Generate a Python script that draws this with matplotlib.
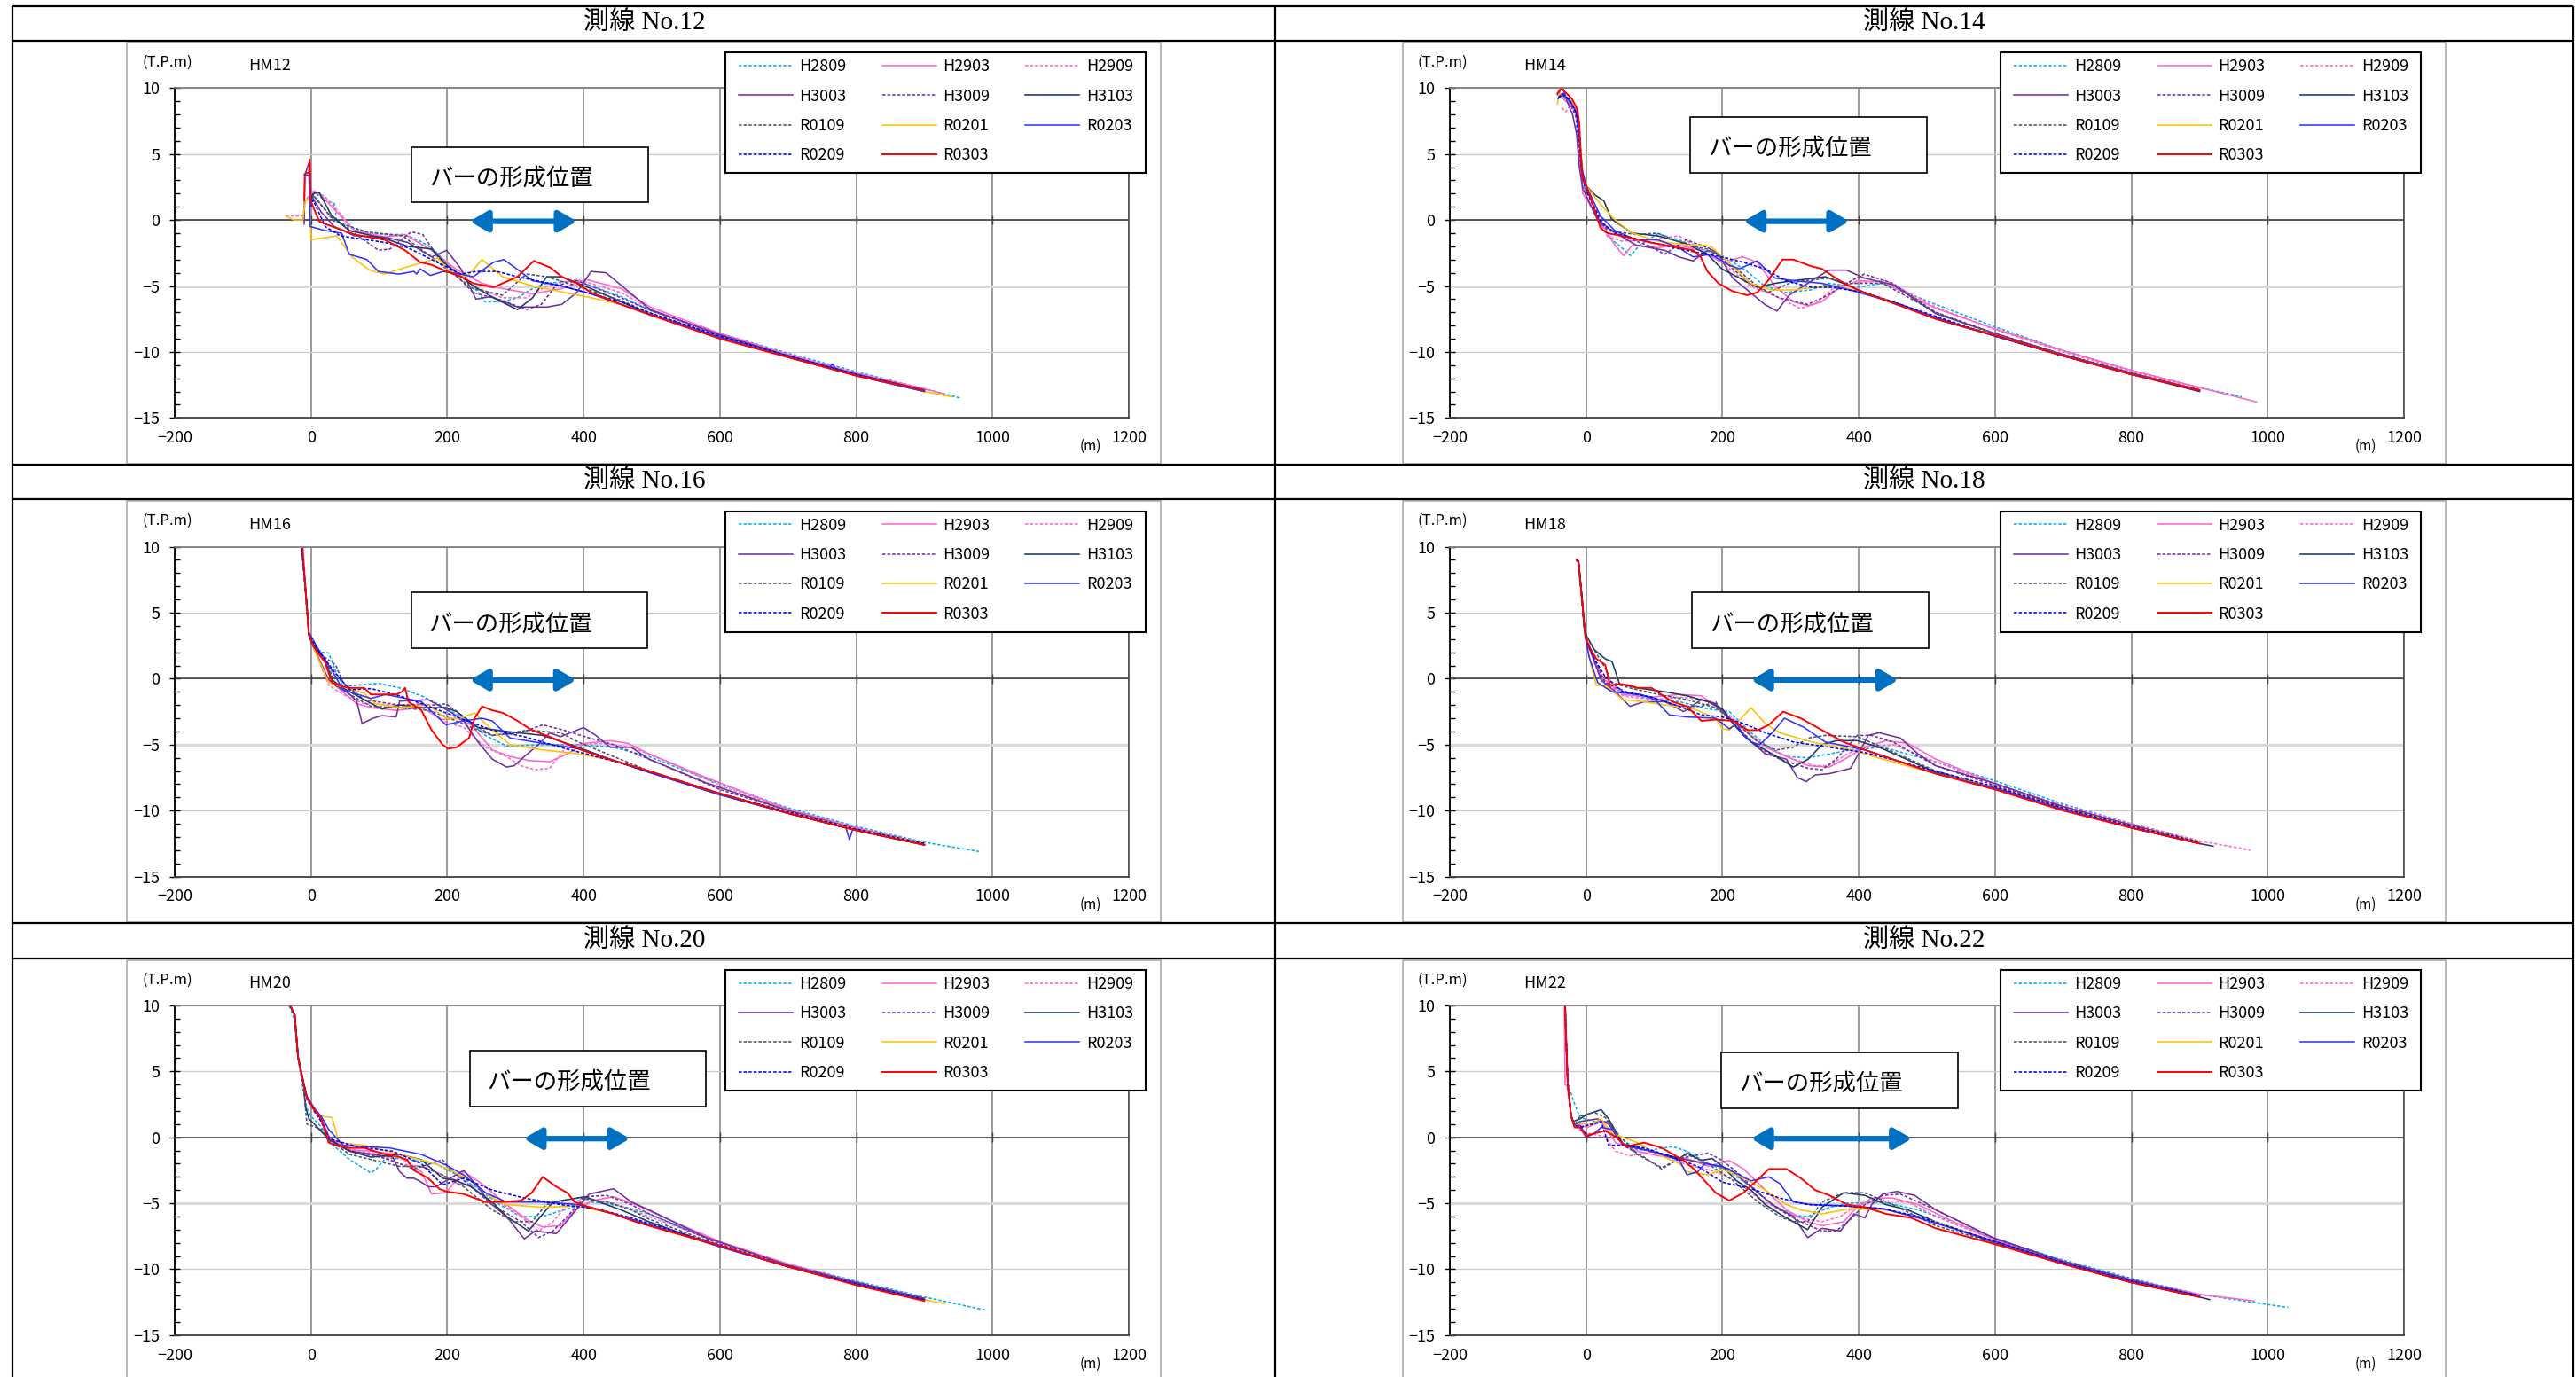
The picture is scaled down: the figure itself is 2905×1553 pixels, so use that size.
import numpy as np
import matplotlib
matplotlib.use("Agg")
import matplotlib.pyplot as plt
from matplotlib.patches import Rectangle

plt.rcParams['font.family'] = ['Noto Sans CJK JP', 'DejaVu Sans']

W, H = 2905, 1553

# survey names (legend order) and their line styles
surveys = ["H2809", "H2903", "H2909", "H3003", "H3009", "H3103",
           "R0109", "R0201", "R0203", "R0209", "R0303"]
colors = {"H2809": "#00B0F0", "H2903": "#FF66CC", "H2909": "#FF66CC",
          "H3003": "#7030A0", "H3009": "#7030A0", "H3103": "#1F3864",
          "R0109": "#44546A", "R0201": "#FFC000", "R0203": "#3333FF",
          "R0209": "#0000FF", "R0303": "#FF0000"}
dotted = {"H2809", "H2909", "H3009", "R0109", "R0209"}

titles = ["測線 No.12", "測線 No.14", "測線 No.16", "測線 No.18", "測線 No.20", "測線 No.22"]
lines_id = ["HM12", "HM14", "HM16", "HM18", "HM20", "HM22"]

# profiles: distance (m), elevation (T.P.m)
hm12 = {
 "H2809": [(0,1.2),(5,2.1),(20,1.5),(34,1.25),(38,-0.1),(60,-0.6),(86,-1.0),(116,-1.1),(138,-1.1),(160,-1.6),(177,-2.1),(212,-3.9),(238,-5.0),(255,-6.2),(281,-6.2),(303,-5.9),(325,-5.2),(346,-4.8),(390,-4.6),(455,-5.8),(500,-6.9),(600,-8.6),(700,-10.1),(800,-11.5),(900,-12.8),(953,-13.5)],
 "H2903": [(0,1.5),(5,2.2),(20,1.6),(34,0.8),(64,-0.8),(108,-1.3),(138,-1.1),(177,-2.3),(212,-3.7),(251,-4.8),(281,-5.2),(325,-5.6),(368,-5.2),(403,-4.5),(455,-5.2),(498,-6.6),(600,-8.6),(700,-10.2),(800,-11.6),(900,-12.8),(930,-13.2)],
 "H2909": [(-37,0.3),(-20,0.3),(-12,0.3),(-8,1.4),(0,2.2),(20,1.8),(34,1.0),(64,-0.8),(100,-1.1),(142,-1.2),(177,-2.3),(238,-5.0),(281,-5.9),(316,-5.9),(346,-5.0),(390,-4.5),(455,-5.5),(500,-6.8),(600,-8.7),(700,-10.2),(800,-11.6),(900,-12.8)],
 "H3003": [(-10,-0.3),(-9,3.4),(-2,4.5),(0,1.9),(15,0.6),(34,-0.5),(64,-1.2),(108,-1.3),(142,-1.7),(177,-2.8),(199,-2.3),(220,-3.7),(242,-6.0),(264,-5.8),(303,-6.6),(346,-6.6),(368,-6.4),(390,-5.5),(411,-3.9),(433,-4.0),(498,-6.8),(600,-8.7),(700,-10.3),(800,-11.7),(900,-12.9)],
 "H3009": [(-1,1.0),(3,1.9),(30,0.2),(64,-1.0),(99,-2.3),(116,-2.2),(147,-0.9),(164,-1.1),(186,-2.8),(238,-5.5),(281,-6.1),(316,-6.8),(338,-6.4),(359,-5.0),(390,-4.6),(455,-5.9),(500,-6.9),(600,-8.7),(700,-10.3),(800,-11.7),(900,-12.9)],
 "H3103": [(0,1.5),(3,2.0),(12,2.1),(30,0.35),(56,-0.8),(108,-1.4),(142,-2.0),(177,-2.2),(199,-3.4),(238,-5.0),(268,-5.9),(303,-6.8),(325,-5.9),(346,-4.3),(368,-4.3),(411,-5.2),(455,-6.2),(500,-7.2),(600,-8.9),(700,-10.4),(800,-11.8),(900,-13.0)],
 "R0109": [(0,1.3),(3,1.9),(34,-0.1),(82,-0.9),(134,-1.2),(177,-2.8),(203,-3.9),(238,-5.2),(281,-5.7),(316,-4.1),(346,-4.3),(390,-5.0),(455,-6.1),(500,-7.1),(600,-8.8),(700,-10.3),(800,-11.7),(900,-12.9)],
 "R0201": [(-37,0.3),(-25,0.0),(-12,0.0),(-8,1.5),(-2,1.6),(0,-1.5),(38,-1.2),(60,-2.8),(86,-3.8),(108,-4.1),(138,-3.6),(186,-2.9),(203,-3.9),(229,-4.3),(251,-3.0),(281,-4.3),(325,-5.0),(411,-5.9),(455,-6.4),(500,-7.2),(600,-8.9),(700,-10.4),(800,-11.8),(900,-13.0),(940,-13.4)],
 "R0203": [(-10,3.4),(-3,3.4),(-1,-0.5),(21,-0.8),(45,-1.0),(56,-2.6),(82,-3.0),(99,-3.9),(129,-4.1),(151,-3.9),(155,-4.1),(160,-3.7),(175,-4.2),(194,-3.9),(220,-4.1),(238,-4.3),(268,-3.2),(283,-3.0),(307,-3.9),(325,-4.6),(368,-5.0),(411,-5.6),(455,-6.4),(500,-7.2),(600,-8.9),(700,-10.4),(760,-11.2),(765,-10.9),(770,-11.3),(800,-11.8),(900,-13.0)],
 "R0209": [(0,1.0),(3,1.5),(21,-0.5),(43,-1.2),(108,-1.7),(142,-2.1),(177,-3.0),(220,-4.1),(242,-3.9),(273,-3.9),(303,-4.3),(368,-5.0),(411,-5.6),(455,-6.2),(500,-7.1),(600,-8.8),(700,-10.3),(800,-11.7),(900,-12.9)],
 "R0303": [(-10,1.5),(-9,3.5),(-3,3.6),(-2,4.6),(-1,1.5),(12,-0.1),(21,-0.3),(64,-1.1),(108,-1.5),(138,-2.3),(160,-3.2),(177,-3.4),(199,-3.9),(220,-4.3),(238,-4.8),(268,-5.1),(303,-4.3),(327,-3.1),(351,-3.6),(368,-4.3),(390,-4.8),(411,-5.5),(455,-6.4),(498,-7.2),(600,-9.0),(700,-10.4),(800,-11.8),(900,-12.9)],
}

hm14 = {
 "H2809": [(-40,9.3),(-30,9.2),(-20,8.8),(-12,8.2),(-9,5.5),(-5,3.0),(0,1.8),(5,1.2),(31,-1.2),(52,-2.1),(65,-2.7),(79,-1.9),(105,-1.05),(136,-1.5),(168,-2.2),(204,-2.8),(236,-3.9),(262,-5.0),(293,-5.5),(330,-5.3),(356,-4.8),(398,-5.1),(435,-4.8),(513,-6.4),(600,-8.1),(700,-9.9),(800,-11.4),(900,-12.7),(962,-13.4)],
 "H2903": [(-38,9.4),(-30,9.0),(-20,8.6),(-12,7.5),(-8,4.0),(-5,2.0),(5,1.2),(20,0.0),(42,-1.9),(55,-2.7),(68,-1.9),(105,-2.1),(136,-1.9),(168,-2.3),(199,-3.2),(230,-2.8),(251,-3.2),(277,-5.0),(304,-6.2),(325,-6.5),(346,-6.2),(367,-5.3),(398,-4.6),(435,-4.7),(513,-6.7),(597,-8.2),(700,-9.9),(800,-11.4),(900,-12.7),(984,-13.8)],
 "H2909": [(-36,8.5),(-30,8.2),(-22,8.8),(-12,7.8),(-8,4.5),(-5,2.5),(5,1.2),(31,-1.2),(52,-1.6),(94,-1.5),(136,-1.2),(168,-2.2),(199,-3.2),(241,-5.0),(283,-5.9),(314,-6.7),(335,-6.4),(367,-5.0),(408,-4.7),(440,-4.6),(513,-6.6),(600,-8.3),(700,-10.0),(800,-11.5),(900,-12.8)],
 "H3003": [(-40,9.6),(-35,10.2),(-28,9.0),(-20,8.0),(-14,6.5),(-10,4.0),(-5,2.4),(16,0.1),(37,-0.8),(73,-1.9),(115,-2.3),(136,-2.8),(157,-3.1),(178,-2.3),(194,-2.6),(215,-4.4),(241,-5.5),(262,-6.4),(280,-6.9),(298,-5.7),(319,-5.0),(356,-3.8),(382,-3.8),(408,-4.4),(450,-4.9),(513,-7.1),(600,-8.6),(700,-10.2),(800,-11.6),(900,-12.9)],
 "H3009": [(-40,9.5),(-33,9.6),(-25,9.0),(-15,7.8),(-10,5.0),(-5,3.0),(0,2.3),(21,-0.3),(52,-1.2),(94,-2.0),(115,-2.6),(147,-1.5),(183,-2.2),(199,-2.8),(230,-4.1),(251,-5.0),(283,-5.9),(325,-6.4),(351,-5.8),(382,-4.8),(408,-4.1),(450,-4.8),(513,-7.0),(600,-8.6),(700,-10.2),(800,-11.6),(900,-12.9)],
 "H3103": [(-42,9.5),(-35,9.4),(-25,9.2),(-15,8.3),(-10,6.5),(-7,4.0),(0,2.6),(13,1.9),(26,1.45),(37,0.1),(42,-0.1),(68,-1.0),(105,-1.2),(147,-1.8),(178,-2.6),(199,-3.7),(225,-4.4),(251,-5.1),(277,-4.8),(304,-4.6),(351,-4.3),(377,-4.8),(408,-5.5),(461,-6.4),(513,-7.5),(600,-8.8),(700,-10.3),(800,-11.7),(900,-13.0)],
 "R0109": [(-41,9.4),(-33,9.5),(-22,9.0),(-13,8.2),(-9,6.0),(-5,3.5),(0,2.2),(31,-0.8),(73,-1.1),(105,-1.0),(147,-1.9),(188,-2.3),(215,-3.7),(241,-4.8),(267,-5.5),(298,-4.8),(319,-4.6),(356,-4.4),(382,-4.8),(435,-4.8),(513,-7.0),(600,-8.7),(700,-10.2),(800,-11.6),(900,-12.9)],
 "R0201": [(-42,8.8),(-40,9.6),(-32,9.4),(-22,9.0),(-13,8.2),(-9,6.0),(-5,3.5),(0,2.6),(21,1.2),(37,0.3),(47,-0.2),(68,-1.0),(105,-1.6),(147,-1.9),(168,-1.9),(183,-2.0),(215,-3.5),(241,-4.8),(272,-5.3),(304,-5.3),(335,-5.1),(367,-5.0),(408,-5.5),(461,-6.4),(513,-7.4),(600,-8.8),(700,-10.3),(800,-11.7),(900,-12.9)],
 "R0203": [(-41,9.2),(-34,9.6),(-24,9.0),(-14,8.2),(-10,6.5),(-6,3.8),(0,2.6),(21,0.3),(42,-0.8),(73,-1.5),(105,-1.5),(136,-2.1),(157,-2.8),(183,-2.6),(209,-3.4),(225,-3.7),(251,-3.1),(277,-4.4),(304,-4.6),(346,-4.8),(387,-5.3),(461,-6.4),(513,-7.4),(600,-8.8),(700,-10.3),(800,-11.7),(900,-12.9)],
 "R0209": [(-41,9.3),(-34,9.5),(-24,9.1),(-14,8.0),(-10,6.0),(-6,3.5),(0,2.3),(21,-0.1),(42,-1.0),(94,-1.7),(147,-2.3),(199,-2.8),(230,-3.2),(262,-3.7),(293,-4.6),(330,-5.1),(361,-5.1),(408,-5.5),(461,-6.4),(513,-7.3),(600,-8.8),(700,-10.3),(800,-11.7),(900,-12.9)],
 "R0303": [(-42,9.6),(-37,10.0),(-21,9.2),(-13,8.4),(-10,7.3),(-8,5.0),(-5,3.2),(0,2.6),(10,1.2),(21,-0.6),(31,-1.0),(52,-1.2),(94,-1.7),(147,-2.2),(157,-2.3),(168,-2.8),(178,-3.9),(194,-4.8),(215,-5.4),(236,-5.7),(251,-5.5),(267,-4.6),(288,-3.0),(304,-3.0),(330,-3.5),(346,-3.7),(372,-4.6),(398,-5.3),(450,-6.3),(513,-7.5),(597,-8.7),(700,-10.3),(800,-11.7),(900,-12.9)],
}

hm16 = {
 "H2809": [(-15,11),(-7,6.0),(-3,3.3),(2,2.6),(15,2.0),(26,1.95),(36,0.6),(47,-0.6),(67,-0.5),(99,-0.35),(130,-0.7),(162,-1.3),(193,-2.1),(224,-3.0),(256,-4.3),(287,-5.1),(340,-5.0),(392,-5.0),(444,-5.2),(496,-5.9),(580,-7.6),(700,-9.8),(800,-11.2),(900,-12.4),(980,-13.1)],
 "H2903": [(-15,11),(-7,6.0),(-3,3.3),(5,2.3),(26,-0.1),(67,-1.9),(88,-2.2),(125,-2.4),(162,-2.2),(193,-3.1),(214,-3.0),(235,-3.5),(266,-5.4),(292,-5.9),(319,-6.2),(350,-6.3),(376,-5.7),(402,-4.9),(439,-4.7),(465,-4.9),(496,-5.7),(580,-7.5),(700,-9.9),(800,-11.3),(900,-12.5)],
 "H2909": [(-15,11),(-7,6.0),(-3,3.3),(5,2.2),(26,-0.5),(47,-1.2),(78,-1.9),(130,-2.0),(162,-1.9),(193,-3.2),(224,-3.7),(256,-5.2),(287,-5.9),(308,-6.6),(329,-6.9),(350,-6.8),(371,-5.4),(392,-5.0),(429,-4.9),(470,-5.2),(523,-6.3),(600,-8.1),(700,-9.9),(800,-11.3),(900,-12.5)],
 "H3003": [(-15,11),(-7,6.0),(-3,3.3),(5,2.2),(26,-0.1),(57,-1.2),(67,-1.7),(75,-3.4),(91,-3.0),(104,-2.8),(125,-2.9),(130,-1.7),(172,-1.6),(204,-2.5),(224,-3.2),(245,-4.8),(266,-6.1),(287,-6.7),(298,-6.6),(313,-5.9),(334,-5.0),(350,-4.1),(366,-4.4),(400,-3.7),(418,-4.3),(439,-5.2),(470,-5.2),(496,-6.1),(580,-7.9),(700,-10.0),(800,-11.4),(900,-12.5)],
 "H3009": [(-15,11),(-7,6.0),(-3,3.3),(10,2.0),(36,1.05),(47,-0.3),(78,-1.6),(130,-2.0),(183,-2.0),(198,-1.9),(214,-2.5),(235,-3.4),(266,-4.3),(308,-4.1),(340,-3.5),(371,-3.9),(402,-4.4),(444,-5.0),(496,-6.1),(600,-8.4),(700,-10.0),(800,-11.4),(900,-12.5)],
 "H3103": [(-15,11),(-7,6.0),(-3,3.3),(5,2.4),(20,1.5),(31,-0.1),(47,-0.7),(78,-1.6),(104,-2.3),(130,-2.0),(162,-2.2),(198,-2.2),(214,-2.5),(245,-3.7),(287,-4.0),(340,-4.3),(392,-5.2),(444,-6.2),(496,-7.1),(600,-8.8),(700,-10.2),(800,-11.5),(900,-12.6)],
 "R0109": [(-15,11),(-7,6.0),(-3,3.3),(10,2.0),(25,1.0),(36,-0.5),(57,-1.2),(88,-2.1),(130,-2.2),(172,-2.4),(204,-3.0),(235,-3.7),(266,-4.3),(319,-3.9),(366,-4.1),(392,-4.8),(444,-5.9),(496,-7.0),(600,-8.7),(700,-10.2),(800,-11.5),(900,-12.6)],
 "R0201": [(-15,11),(-7,6.0),(-3,3.3),(5,2.2),(26,-0.3),(52,-0.7),(78,-1.1),(94,-1.9),(130,-2.2),(172,-2.0),(198,-3.0),(219,-3.0),(240,-2.6),(266,-3.9),(292,-5.0),(340,-5.4),(392,-5.7),(444,-6.2),(496,-7.0),(600,-8.7),(700,-10.1),(800,-11.4),(900,-12.5)],
 "R0203": [(-15,11),(-7,6.2),(-3,3.5),(10,2.3),(31,0.6),(47,-0.85),(88,-1.5),(109,-1.2),(130,-1.4),(162,-1.75),(198,-3.5),(224,-3.2),(251,-3.0),(266,-3.2),(292,-4.5),(340,-4.9),(392,-5.3),(444,-6.2),(496,-7.1),(600,-8.8),(700,-10.2),(785,-11.3),(790,-12.2),(795,-11.4),(900,-12.6)],
 "R0209": [(-15,11),(-7,6.0),(-3,3.3),(10,2.2),(36,0.4),(57,-0.85),(88,-0.75),(130,-1.3),(183,-2.3),(224,-3.1),(266,-3.9),(313,-4.4),(366,-5.2),(418,-5.9),(470,-6.6),(600,-8.7),(700,-10.1),(800,-11.4),(900,-12.5)],
 "R0303": [(-13,10.5),(-7,6.0),(-3,3.3),(2,2.6),(10,1.95),(20,1.3),(31,-0.3),(47,-0.6),(57,-0.7),(78,-0.7),(88,-1.2),(125,-1.2),(133,-1.0),(138,-0.7),(143,-1.75),(162,-2.4),(177,-3.9),(193,-5.0),(201,-5.3),(214,-5.2),(224,-4.8),(232,-4.5),(240,-3.0),(251,-2.1),(266,-2.4),(282,-2.6),(303,-3.2),(324,-3.9),(350,-4.4),(392,-5.3),(413,-5.7),(444,-6.2),(496,-7.0),(580,-8.4),(700,-10.2),(800,-11.5),(900,-12.6)],
}

hm18 = {
 "H2809": [(-14,9.0),(-11,8.8),(-6,6.0),(-3,4.0),(0,2.8),(28,-0.5),(54,-1.0),(96,-1.6),(137,-1.75),(179,-2.3),(210,-2.5),(242,-4.1),(268,-5.2),(294,-5.9),(326,-6.0),(357,-5.7),(388,-5.4),(435,-5.2),(513,-6.3),(597,-7.7),(700,-9.5),(800,-11.0),(900,-12.3)],
 "H2903": [(-14,9.0),(-11,8.8),(-6,6.0),(-3,4.0),(0,2.9),(22,0.15),(54,-1.2),(96,-1.4),(137,-1.2),(169,-1.3),(200,-2.5),(237,-4.1),(263,-5.2),(294,-5.9),(326,-6.6),(357,-6.7),(383,-6.0),(409,-5.2),(440,-4.7),(472,-4.9),(513,-6.1),(597,-7.9),(700,-9.7),(800,-11.1),(900,-12.4)],
 "H2909": [(-14,9.0),(-11,8.8),(-6,6.0),(-3,4.0),(0,2.9),(22,-0.1),(54,-1.3),(96,-1.6),(137,-1.4),(179,-1.6),(210,-2.75),(242,-4.3),(273,-5.4),(304,-6.1),(336,-6.6),(357,-6.6),(383,-5.7),(409,-5.2),(450,-5.0),(513,-6.3),(600,-8.0),(700,-9.6),(800,-11.0),(900,-12.3),(975,-13.0)],
 "H3003": [(-14,9.0),(-11,8.8),(-6,6.0),(-3,4.0),(0,3.0),(22,-0.1),(43,-1.0),(64,-2.1),(85,-1.75),(116,-1.75),(143,-2.5),(169,-1.6),(190,-1.9),(205,-2.8),(231,-4.3),(263,-5.7),(294,-6.1),(310,-7.5),(323,-7.8),(336,-7.3),(357,-7.2),(388,-6.8),(414,-4.3),(430,-4.1),(461,-4.5),(487,-5.7),(513,-6.6),(597,-7.9),(700,-9.7),(800,-11.1),(900,-12.4)],
 "H3009": [(-14,9.0),(-11,8.8),(-6,6.0),(-3,4.0),(0,2.9),(28,-0.3),(59,-1.0),(96,-1.4),(137,-2.1),(169,-2.1),(190,-1.75),(200,-2.5),(226,-3.9),(252,-5.2),(284,-6.1),(326,-6.8),(346,-6.9),(367,-6.1),(398,-4.3),(419,-4.3),(450,-4.8),(513,-6.6),(600,-8.1),(700,-9.7),(800,-11.1),(900,-12.4)],
 "H3103": [(-14,9.0),(-11,8.9),(-6,6.1),(-3,4.3),(0,3.3),(12,2.2),(28,1.5),(38,1.3),(49,-0.4),(75,-0.7),(116,-1.0),(148,-1.3),(179,-1.75),(200,-2.3),(221,-3.7),(242,-4.8),(273,-5.7),(304,-6.7),(326,-6.1),(346,-5.0),(367,-4.7),(398,-4.7),(430,-5.2),(461,-5.9),(513,-7.1),(600,-8.3),(700,-9.9),(800,-11.3),(900,-12.5),(920,-12.7)],
 "R0109": [(-14,9.0),(-11,8.8),(-6,6.0),(-3,4.2),(0,3.2),(28,0.8),(38,-0.3),(64,-0.7),(106,-1.2),(148,-1.6),(190,-2.2),(221,-3.4),(252,-4.8),(279,-5.4),(304,-5.2),(326,-4.5),(351,-4.3),(398,-4.4),(435,-5.2),(513,-7.0),(600,-8.3),(700,-9.9),(800,-11.3),(900,-12.5)],
 "R0201": [(-14,9.0),(-11,8.8),(-6,6.0),(-3,4.0),(1,2.6),(7,1.05),(15,-0.5),(28,-0.5),(54,-1.6),(85,-1.75),(116,-2.0),(158,-2.3),(190,-3.0),(200,-3.8),(210,-3.9),(226,-3.1),(242,-2.2),(263,-3.4),(284,-4.1),(331,-4.8),(383,-5.3),(435,-6.1),(513,-7.2),(600,-8.2),(700,-9.8),(800,-11.2),(900,-12.4)],
 "R0203": [(-14,9.0),(-11,8.8),(-6,6.0),(-3,4.0),(1,2.6),(4,1.7),(17,-0.3),(38,-1.0),(80,-1.2),(101,-1.6),(122,-2.75),(148,-2.9),(190,-3.0),(210,-3.8),(221,-3.4),(231,-4.3),(242,-4.8),(255,-5.0),(273,-4.1),(291,-3.0),(320,-3.7),(351,-4.8),(409,-5.4),(461,-6.3),(513,-7.2),(600,-8.3),(700,-9.9),(800,-11.3),(900,-12.5)],
 "R0209": [(-14,9.0),(-11,8.8),(-6,6.0),(-3,4.0),(0,2.9),(12,1.5),(28,0.15),(54,-1.0),(96,-1.4),(137,-2.1),(169,-2.75),(200,-2.9),(231,-3.4),(263,-4.1),(304,-4.8),(357,-5.2),(409,-5.6),(461,-6.3),(600,-8.2),(700,-9.8),(800,-11.2),(900,-12.4)],
 "R0303": [(-14,9.0),(-11.5,8.9),(-6,6.0),(-3,4.2),(-1,3.1),(7,2.2),(15,1.5),(28,1.05),(35,-0.5),(49,-0.4),(64,-0.5),(75,-0.7),(96,-0.7),(116,-1.4),(127,-1.75),(148,-2.1),(169,-3.2),(190,-3.1),(216,-3.2),(237,-3.9),(252,-3.9),(268,-3.5),(289,-2.5),(315,-3.0),(346,-3.9),(378,-4.8),(409,-5.4),(461,-6.3),(513,-7.2),(600,-8.4),(700,-10.0),(800,-11.3),(900,-12.5)],
}

hm20 = {
 "H2809": [(-35,10.3),(-29,9.6),(-24,8.8),(-19,6.0),(-11,3.5),(-6,2.2),(0,1.6),(15,0.8),(26,-0.3),(57,-1.7),(88,-2.7),(96,-2.4),(109,-1.6),(130,-1.6),(183,-2.0),(214,-2.85),(245,-3.9),(277,-5.1),(308,-6.0),(340,-6.0),(371,-5.5),(413,-4.9),(455,-5.2),(496,-5.8),(600,-8.0),(700,-9.6),(800,-10.9),(900,-12.1),(990,-13.1)],
 "H2903": [(-35,10.3),(-29,9.8),(-24,9.3),(-19,6.1),(-11,4.0),(-6,3.0),(5,2.1),(15,1.3),(26,0.0),(57,-0.95),(88,-1.05),(125,-1.3),(162,-2.6),(177,-4.3),(198,-4.2),(224,-2.6),(250,-3.5),(287,-5.1),(319,-6.3),(340,-6.8),(366,-6.7),(387,-5.5),(413,-4.8),(444,-4.5),(476,-5.1),(523,-6.2),(600,-7.9),(700,-9.6),(800,-11.0),(900,-12.2)],
 "H2909": [(-35,10.3),(-29,9.8),(-24,9.3),(-19,6.1),(-11,4.0),(-6,2.8),(5,1.9),(15,1.2),(26,-0.2),(57,-0.9),(99,-1.3),(130,-2.0),(162,-2.2),(193,-2.85),(214,-3.5),(245,-3.75),(277,-4.9),(308,-6.0),(334,-7.1),(355,-6.4),(376,-5.1),(402,-4.6),(444,-5.0),(496,-6.0),(600,-8.0),(700,-9.6),(800,-11.0),(900,-12.2)],
 "H3003": [(-35,10.3),(-29,9.8),(-24,9.3),(-19,6.1),(-11,4.1),(-6,3.0),(5,2.1),(15,1.4),(26,0.1),(40,-0.6),(57,-1.05),(78,-1.2),(120,-1.5),(130,-2.6),(141,-3.1),(151,-3.1),(162,-3.4),(172,-3.75),(183,-3.75),(198,-3.3),(224,-2.5),(245,-3.75),(261,-4.9),(287,-6.0),(313,-7.7),(329,-7.1),(360,-7.3),(381,-6.0),(408,-4.3),(444,-3.9),(470,-4.9),(496,-5.5),(580,-7.6),(700,-9.7),(800,-11.0),(900,-12.2)],
 "H3009": [(-35,10.3),(-29,9.8),(-24,9.3),(-19,6.1),(-11,4.0),(-6,2.9),(5,2.0),(15,1.3),(26,-0.2),(57,-1.0),(109,-1.6),(151,-2.4),(193,-1.7),(204,-2.4),(235,-3.75),(266,-5.1),(308,-6.4),(334,-7.6),(355,-7.1),(376,-6.0),(402,-4.5),(434,-4.4),(470,-5.1),(496,-5.8),(600,-8.1),(700,-9.7),(800,-11.0),(900,-12.2)],
 "H3103": [(-35,10.3),(-29,9.8),(-24,9.2),(-19,6.0),(-11,4.0),(-8,2.3),(-3,1.4),(5,1.0),(26,-0.15),(57,-1.05),(88,-1.5),(130,-1.3),(162,-1.7),(193,-3.1),(209,-3.2),(235,-3.75),(266,-4.9),(287,-6.0),(319,-7.1),(355,-4.9),(402,-4.5),(423,-4.9),(455,-5.5),(496,-6.4),(600,-8.3),(700,-9.8),(800,-11.1),(900,-12.3)],
 "R0109": [(-35,10.3),(-29,9.8),(-24,9.2),(-19,6.0),(-11,3.8),(-6,1.0),(0,0.9),(15,0.6),(26,-0.2),(57,-1.3),(130,-2.2),(162,-2.2),(193,-2.85),(224,-3.75),(266,-5.5),(298,-6.4),(324,-6.4),(345,-5.1),(392,-4.6),(434,-4.9),(470,-5.5),(496,-6.2),(600,-8.2),(700,-9.8),(800,-11.1),(900,-12.3)],
 "R0201": [(-35,10.3),(-29,9.8),(-24,9.3),(-19,6.1),(-11,4.1),(-6,3.0),(5,2.0),(15,1.6),(31,1.5),(41,-0.4),(78,-0.6),(130,-1.3),(183,-2.0),(209,-2.6),(235,-3.3),(266,-4.6),(287,-5.1),(340,-5.3),(392,-5.2),(444,-5.8),(496,-6.7),(600,-8.3),(700,-9.8),(800,-11.1),(900,-12.3),(930,-12.6)],
 "R0203": [(-35,10.3),(-29,9.8),(-24,9.3),(-19,6.1),(-11,4.2),(-6,3.1),(5,2.2),(15,1.6),(26,0.6),(47,-0.6),(78,-0.7),(115,-0.8),(162,-1.3),(198,-2.1),(224,-2.85),(256,-4.2),(287,-4.9),(340,-4.9),(392,-5.1),(444,-5.8),(496,-6.6),(600,-8.3),(700,-9.8),(800,-11.1),(900,-12.3)],
 "R0209": [(-35,10.3),(-29,9.8),(-24,9.3),(-19,6.1),(-11,4.1),(-6,3.0),(5,2.0),(15,1.2),(26,-0.1),(67,-0.7),(120,-1.05),(162,-2.0),(193,-3.6),(224,-3.1),(266,-4.0),(313,-4.6),(366,-5.1),(418,-5.4),(470,-6.1),(600,-8.2),(700,-9.8),(800,-11.1),(900,-12.3)],
 "R0303": [(-35,10.3),(-29,9.8),(-24,9.3),(-19,6.1),(-11,4.1),(-6,3.0),(5,2.1),(15,1.4),(26,-0.4),(36,-0.6),(57,-0.8),(78,-0.8),(109,-1.3),(130,-1.5),(141,-1.7),(151,-2.5),(172,-3.1),(188,-3.9),(198,-4.1),(224,-4.3),(256,-4.9),(277,-4.9),(308,-4.8),(324,-4.2),(340,-3.0),(360,-3.75),(376,-4.2),(387,-4.9),(403,-5.2),(423,-5.5),(444,-5.8),(476,-6.4),(523,-7.1),(580,-7.9),(700,-9.8),(800,-11.2),(900,-12.4)],
}

hm22 = {
 "H2809": [(-31,10.5),(-30,8.4),(-27,4.1),(-23,3.5),(-19,2.8),(-9,1.5),(12,1.2),(33,1.2),(49,0.0),(75,-0.95),(96,-0.95),(127,-0.7),(148,-1.05),(179,-2.0),(210,-2.6),(242,-3.75),(273,-5.1),(304,-5.9),(325,-6.0),(357,-5.3),(383,-5.0),(435,-4.9),(487,-5.5),(539,-6.4),(600,-7.7),(700,-9.3),(800,-10.7),(900,-11.9),(1030,-12.9)],
 "H2903": [(-32,10.5),(-31,4.0),(-28,3.9),(-22,1.6),(-17,1.0),(2,0.75),(22,1.2),(43,-0.4),(75,-1.05),(106,-1.4),(148,-1.6),(179,-2.2),(210,-1.75),(231,-2.4),(263,-4.0),(294,-5.5),(325,-6.4),(346,-6.7),(378,-6.4),(393,-5.5),(419,-4.6),(450,-4.6),(487,-5.1),(539,-6.4),(600,-7.8),(700,-9.4),(800,-10.8),(900,-11.9),(980,-12.4)],
 "H2909": [(-31,10.5),(-30,8.4),(-27,4.1),(-22,1.6),(-17,0.9),(-5,0.4),(28,0.05),(43,-1.05),(64,-1.4),(96,-1.1),(127,-1.75),(158,-2.2),(190,-2.6),(221,-3.3),(252,-4.6),(284,-5.5),(315,-6.1),(346,-6.4),(373,-6.0),(398,-5.1),(435,-4.8),(472,-4.9),(513,-6.0),(600,-7.8),(700,-9.4),(800,-10.8),(900,-12.0)],
 "H3003": [(-31,10.5),(-30,8.4),(-27,4.1),(-22,1.6),(-17,0.9),(-9,1.2),(17,1.4),(33,1.0),(54,-0.6),(96,-1.05),(137,-1.6),(179,-2.0),(210,-2.4),(242,-3.75),(273,-5.1),(304,-6.0),(325,-7.6),(346,-6.9),(373,-7.1),(393,-5.8),(409,-6.1),(419,-5.1),(435,-4.3),(456,-4.1),(482,-4.4),(513,-5.5),(597,-7.6),(700,-9.4),(800,-10.8),(900,-12.0)],
 "H3009": [(-31,10.5),(-30,8.4),(-27,4.1),(-22,1.6),(-17,0.9),(-9,0.75),(17,1.1),(33,1.2),(54,-0.6),(85,-1.5),(111,-2.4),(137,-1.6),(179,-1.2),(200,-1.75),(226,-2.85),(252,-4.2),(284,-5.5),(315,-6.4),(346,-7.1),(367,-7.1),(388,-6.2),(409,-5.1),(435,-4.4),(461,-4.3),(513,-5.5),(600,-7.7),(700,-9.4),(800,-10.8),(900,-12.0)],
 "H3103": [(-31,10.5),(-30,8.4),(-27,4.1),(-22,1.6),(-19,1.2),(-9,1.4),(2,1.75),(22,2.1),(33,1.4),(43,0.5),(54,-0.5),(75,-0.8),(106,-1.2),(137,-1.6),(148,-1.2),(169,-1.75),(185,-1.6),(200,-2.2),(221,-3.3),(242,-4.0),(263,-5.1),(284,-5.8),(304,-6.4),(325,-7.0),(346,-5.3),(378,-4.2),(409,-4.4),(440,-5.1),(472,-5.5),(513,-6.4),(600,-8.0),(700,-9.6),(800,-11.0),(900,-12.1),(915,-12.3)],
 "R0109": [(-31,10.5),(-30,8.4),(-27,4.1),(-22,1.6),(-17,0.9),(-9,1.6),(12,1.9),(28,1.5),(49,0.1),(75,-1.3),(111,-2.3),(148,-1.3),(179,-2.0),(216,-3.3),(252,-4.9),(284,-6.0),(304,-6.4),(325,-6.4),(346,-4.9),(378,-4.2),(409,-4.2),(450,-5.1),(513,-6.7),(600,-8.0),(700,-9.6),(800,-11.0),(900,-12.1)],
 "R0201": [(-31,10.5),(-30,8.4),(-27,4.1),(-22,1.6),(-17,0.9),(-9,1.0),(7,1.0),(22,1.4),(38,0.3),(54,0.0),(75,-0.4),(106,-1.3),(137,-2.0),(148,-2.6),(179,-2.85),(200,-2.4),(231,-3.1),(263,-4.0),(294,-5.1),(315,-5.5),(346,-5.8),(388,-5.4),(440,-5.5),(513,-6.4),(600,-7.9),(700,-9.5),(800,-10.9),(900,-12.0)],
 "R0203": [(-31,10.5),(-30,8.4),(-27,4.1),(-22,1.6),(-17,0.9),(-9,0.9),(2,0.05),(12,0.3),(22,0.75),(38,0.6),(54,-0.6),(96,-1.05),(137,-1.75),(148,-2.85),(164,-2.6),(174,-2.0),(200,-2.2),(242,-3.3),(268,-3.0),(284,-3.5),(304,-4.9),(331,-5.1),(383,-5.2),(435,-5.4),(487,-6.1),(600,-7.9),(700,-9.5),(800,-10.9),(900,-12.0)],
 "R0209": [(-31,10.5),(-30,8.4),(-27,4.1),(-22,1.6),(-17,0.9),(-9,0.75),(22,1.2),(33,-0.6),(54,-0.6),(85,-0.8),(127,-1.5),(164,-2.2),(200,-3.4),(242,-3.9),(284,-4.6),(325,-5.1),(378,-5.2),(435,-5.4),(487,-6.0),(600,-7.9),(700,-9.5),(800,-10.9),(900,-12.0)],
 "R0303": [(-31,10.5),(-30,8.4),(-27,4.1),(-22,1.6),(-17,0.75),(-9,0.75),(-1,0.1),(12,0.3),(28,0.5),(43,0.05),(59,-0.7),(85,-0.4),(111,-0.8),(143,-1.75),(158,-2.4),(174,-3.3),(190,-4.2),(210,-4.8),(231,-4.2),(252,-3.2),(268,-2.4),(294,-2.4),(315,-3.1),(336,-4.0),(357,-4.4),(383,-5.1),(409,-5.3),(440,-5.8),(477,-6.1),(513,-6.9),(600,-8.1),(700,-9.6),(800,-11.0),(900,-12.1)],
}

profiles = [hm12, hm14, hm16, hm18, hm20, hm22]

# bar zone (x range, m) for the blue double arrow
bar_from = [233, 231, 233, 242, 312, 242]
bar_to = [390, 386, 389, 458, 468, 478]

# ---------------- layout (pixels) ----------------
box_at = [(148, 1.32), (153, 3.6), (147, 2.3), (155, 2.3), (233, 2.35), (198, 2.2)]
ROW = 517.3
AX_L = [197, 1635]
AX_W = 1076
AX_T = 99.3
AX_H = 372
PANEL_L = [143, 1582]
PANEL_W = [1166, 1176]

fig = plt.figure(figsize=(W / 100, H / 100), dpi=100)
bg = fig.add_axes([0, 0, 1, 1])
bg.set_xlim(0, W)
bg.set_ylim(H, 0)
bg.axis("off")

# table frame
for yy in [7, 46, 46 + ROW - 39.5, 46 + ROW, 46 + 2 * ROW - 39.5, 46 + 2 * ROW]:
    bg.plot([14, 2902], [yy, yy], color="black", lw=1.6, solid_capstyle="butt")
for xx in [14, 1438, 2902]:
    bg.plot([xx, xx], [7, H], color="black", lw=1.6, solid_capstyle="butt")

xticks = np.arange(-200, 1201, 200)

for i in range(6):
    r, c = divmod(i, 2)
    top = r * ROW
    # title row
    bg.text(727 if c == 0 else 2170, 26.5 + top, titles[i], ha="center", va="center",
            fontsize=21, family=["Liberation Serif", "Noto Sans CJK JP"])
    # chart area border
    bg.add_patch(Rectangle((PANEL_L[c], 48 + top), PANEL_W[c], 475, fill=False,
                           ec="#A6A6A6", lw=1.1))
    L = AX_L[c]
    T = AX_T + top
    R = L + AX_W
    B = T + AX_H
    ax = fig.add_axes([L / W, 1 - B / H, AX_W / W, AX_H / H])
    ax.set_xlim(-200, 1200)
    ax.set_ylim(-15, 10)
    ax.set_axisbelow(True)

    handles = {}
    for s in surveys:
        pts = np.array(profiles[i][s])
        ls = (0, (2.2, 1.3)) if s in dotted else "-"
        lw = 1.4 if s == "R0303" else 1.15
        ln, = ax.plot(pts[:, 0], pts[:, 1], color=colors[s], ls=ls, lw=lw, label=s)
        handles[s] = ln

    ax.set_xticks(xticks)
    ax.set_yticks(np.arange(-15, 11, 5))
    ax.set_yticks(np.arange(-15, 11, 1), minor=True)
    ax.tick_params(axis="x", length=0, pad=10, labelsize=13)
    ax.tick_params(axis="y", which="major", direction="inout", length=8, width=1,
                   pad=8, labelsize=13)
    ax.tick_params(axis="y", which="minor", direction="in", length=4, width=1)
    ax.grid(axis="x", color="#808080", lw=1.1)
    ax.grid(axis="y", which="major", color="#C8C8C8", lw=0.9)
    ax.axhline(-5, color="#D9D9D9", lw=2.2, zorder=0.6)
    ax.axhline(0, color="#404040", lw=1.2, zorder=0.7)
    ax.vlines(xticks[1:-1], -0.35, 0.35, color="#404040", lw=1, zorder=0.7)
    ax.spines["left"].set_color("black")
    ax.spines["left"].set_linewidth(1.3)
    ax.spines["bottom"].set_color("#404040")
    ax.spines["bottom"].set_linewidth(1.3)
    ax.spines["top"].set_color("#808080")
    ax.spines["top"].set_linewidth(1.3)
    ax.spines["right"].set_color("#404040")
    ax.spines["right"].set_linewidth(1.1)

    bg.text(L - 37, T - 29, "(T.P.m)", va="center", fontsize=12)
    bg.text(L + 83, T - 25, lines_id[i], va="center", fontsize=13)
    bg.text(R - 43, B + 32, "(m)", ha="center", va="center", fontsize=11)

    # bar annotation box and arrow
    bx, by = box_at[i]
    ax.add_patch(Rectangle((bx, by), 347, 4.22, fc="white", ec="black", lw=1.2, zorder=4))
    ax.text(bx + 26, by + 1.85, "バーの形成位置", va="center", ha="left", fontsize=19, zorder=5)
    ax.annotate("", xy=(bar_to[i], -0.1), xytext=(bar_from[i], -0.1),
                arrowprops=dict(arrowstyle="<|-|>,head_length=0.6,head_width=0.35",
                                color="#0070C0", lw=4.5, shrinkA=0, shrinkB=0,
                                mutation_scale=20), zorder=5)

    # legend
    ax.add_patch(Rectangle(((R - 455) / W, 1 - (T + 96) / H), 474 / W, 136 / H,
                           transform=fig.transFigure, fc="white", ec="black", lw=1.5,
                           clip_on=False, zorder=5))
    order = ["H2809", "H3003", "R0109", "R0209", "H2903", "H3009", "R0201", "R0303",
             "H2909", "H3103", "R0203"]
    leg = ax.legend([handles[s] for s in order], order, ncol=3, frameon=False,
                    loc="upper left", bbox_to_anchor=((R - 440) / W, 1 - (T - 33) / H),
                    bbox_transform=fig.transFigure, fontsize=13, handlelength=3.4,
                    handletextpad=0.4, columnspacing=2.2, labelspacing=0.85,
                    borderpad=0, borderaxespad=0)
    leg.set_zorder(6)

fig.savefig("out.png", dpi=100)
